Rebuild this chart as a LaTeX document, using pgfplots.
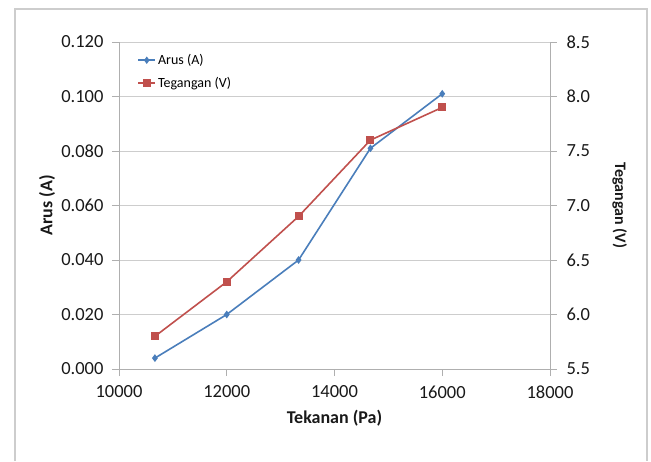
\documentclass[border=0pt]{standalone}
\usepackage{fontspec}
\setmainfont{Carlito}
\usepackage{pgfplots}
\pgfplotsset{compat=1.18}
\definecolor{exblue}{RGB}{74,126,187}
\definecolor{exred}{RGB}{192,80,77}
\definecolor{gridc}{RGB}{205,205,205}
\definecolor{axc}{RGB}{175,175,175}
\definecolor{txt}{RGB}{25,25,25}
\begin{document}
\begin{tikzpicture}[x=1pt,y=1pt]
\useasboundingbox (0,0) rectangle (651,461);
\draw[color=gridc,line width=1.2pt] (15,0) -- (15,452) -- (647,452) -- (647,0);
\pgfplotsset{
  every axis/.append style={
    scale only axis, width=431pt, height=327pt,
    at={(119pt,92pt)}, anchor=south west,
    xmin=10000, xmax=18000,
    font=\fontsize{18.5}{21}\selectfont\color{txt},
    /pgf/number format/assume math mode=true,
    axis line style={color=axc, line width=0.9pt},
    tick style={color=axc, line width=0.9pt},
    major tick length=7pt,
    tick align=outside,
    scaled x ticks=false, scaled y ticks=false,
  }
}
\begin{axis}[
  axis x line*=bottom, axis y line*=left,
  ymin=0, ymax=0.12,
  ytick={0,0.02,...,0.12},
  xtick={10000,12000,14000,16000,18000},
  xticklabel style={/pgf/number format/1000 sep={}, yshift=-6pt},
  yticklabel style={/pgf/number format/.cd, fixed, fixed zerofill, precision=3, /tikz/xshift=-5pt},
  ymajorgrids, major grid style={color=gridc, line width=0.9pt},
  xlabel={\fontsize{18}{20}\selectfont\bfseries Tekanan (Pa)},
  ylabel={\fontsize{18}{20}\selectfont\bfseries Arus (A)},
  xlabel style={at={(axis description cs:0.5,-0.15)}, anchor=center},
  ylabel style={at={(axis description cs:-0.167,0.5)}, anchor=center},
]
\addplot[color=exblue, line width=1.6pt, mark=diamond*, mark size=2.6pt, mark options={solid}]
  coordinates {(10667,0.004) (12000,0.020) (13333,0.040) (14667,0.081) (16000,0.101)};
\end{axis}
\begin{axis}[
  axis x line=none, axis y line*=right,
  ymin=5.5, ymax=8.5,
  ytick={5.5,6.0,...,8.5},
  yticklabel style={/pgf/number format/.cd, fixed, fixed zerofill, precision=1, /tikz/xshift=6pt},
  ylabel={\fontsize{16}{18}\selectfont\bfseries Tegangan (V)},
  ylabel style={at={(axis description cs:1.162,0.5)}, anchor=center, rotate=180},
  legend style={at={(axis description cs:0.04,0.972)}, anchor=north west, draw=none, fill=none,
    font=\fontsize{14}{16}\selectfont, row sep=7pt, inner sep=1pt,
    /tikz/every even column/.append style={column sep=0pt}},
  legend cell align=left,
]
\addlegendimage{color=exblue, line width=1.6pt, mark=diamond*, mark size=2.4pt}
\addlegendentry{Arus (A)}
\addplot[color=exred, line width=1.6pt, mark=square*, mark size=3.2pt]
  coordinates {(10667,5.8) (12000,6.3) (13333,6.9) (14667,7.6) (16000,7.9)};
\addlegendentry{Tegangan (V)}
\end{axis}
\end{tikzpicture}
\end{document}
